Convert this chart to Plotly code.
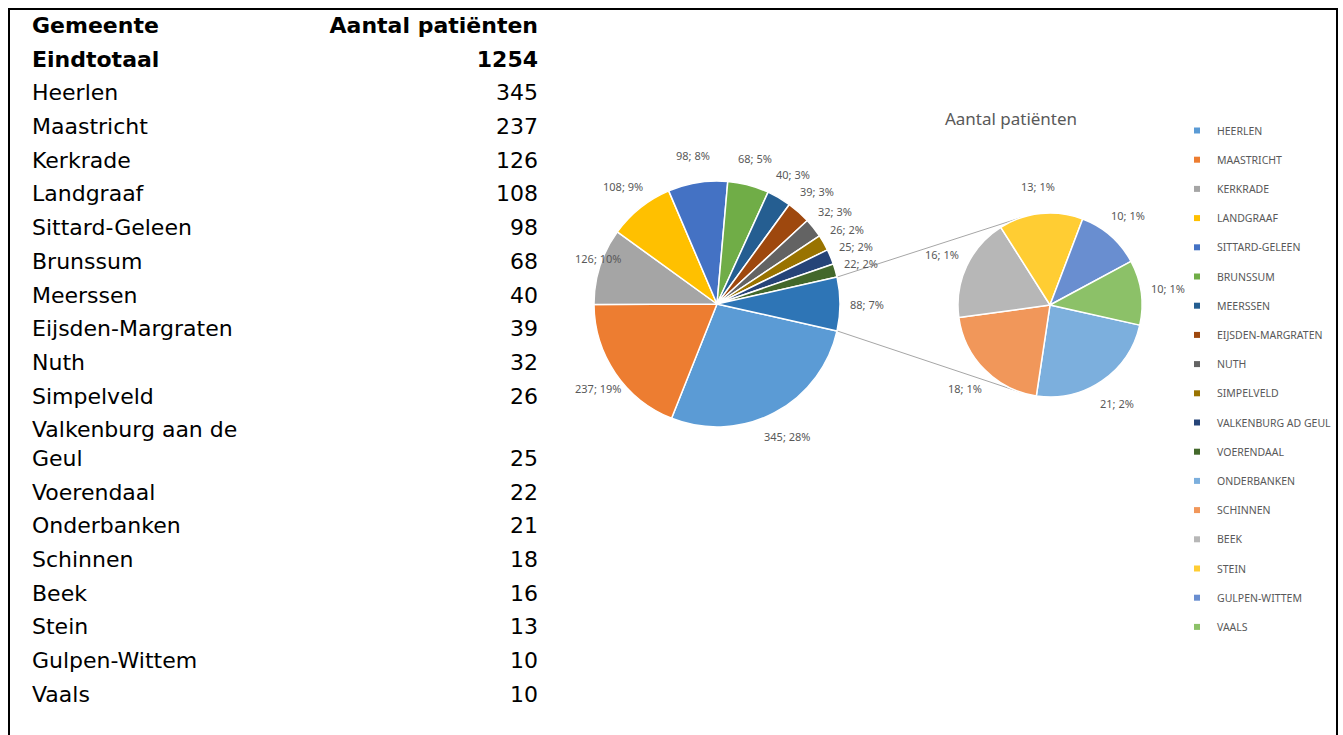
import math
import plotly.graph_objects as go

W, H = 1343, 735

# ---------------- data ----------------
header_labels = ["Gemeente", "Aantal patiënten"]
total_label = "Eindtotaal"
gemeenten = ["Heerlen", "Maastricht", "Kerkrade", "Landgraaf", "Sittard-Geleen",
             "Brunssum", "Meerssen", "Eijsden-Margraten", "Nuth", "Simpelveld",
             "Valkenburg aan de Geul", "Voerendaal", "Onderbanken", "Schinnen",
             "Beek", "Stein", "Gulpen-Wittem", "Vaals"]
patienten = [345, 237, 126, 108, 98, 68, 40, 39, 32, 26, 25, 22, 21, 18, 16, 13, 10, 10]
legend_labels = ["HEERLEN", "MAASTRICHT", "KERKRADE", "LANDGRAAF", "SITTARD-GELEEN",
                 "BRUNSSUM", "MEERSSEN", "EIJSDEN-MARGRATEN", "NUTH", "SIMPELVELD",
                 "VALKENBURG AD GEUL", "VOERENDAAL", "ONDERBANKEN", "SCHINNEN",
                 "BEEK", "STEIN", "GULPEN-WITTEM", "VAALS"]
chart_title = "Aantal patiënten"
n_main = 12  # first 12 in the main pie, rest in the secondary pie
slice_colors = ["#5B9BD5", "#ED7D31", "#A5A5A5", "#FFC000", "#4472C4", "#70AD47",
                "#255E91", "#9E480E", "#636363", "#997300", "#264478", "#43682B",
                "#7CAFDD", "#F1975A", "#B7B7B7", "#FFCD33", "#698ED0", "#8CC168"]
other_color = "#2E75B6"
table_wrap = {"Valkenburg aan de Geul": "Valkenburg aan de<br>Geul"}

# ---------------- derived ----------------
total = sum(patienten)
main_vals = patienten[:n_main]
sec_vals = patienten[n_main:]
other_val = sum(sec_vals)

pie_vals1 = main_vals + [other_val]
pie_labels1 = legend_labels[:n_main] + ["OVERIG"]
pie_cols1 = slice_colors[:n_main] + [other_color]

half_other = 180.0 * other_val / total
rotation = 90 + half_other

# layout geometry (pixels)
cx1, cy1, r1 = 717, 304, 123
cx2, cy2, r2 = 1050, 305, 92
label_gap = 27
label_min_x = 598
row_top, row_pitch, line_pitch = 10.6, 33.7, 28.6
name_x, value_x = 32, 538


def dom(cx, cy, r):
    return dict(x=[(cx - r) / W, (cx + r) / W], y=[1 - (cy + r) / H, 1 - (cy - r) / H])


def label_positions(vals, cx, cy, r, min_x=None):
    pos = []
    start = 90 - rotation
    for v in vals:
        span = 360.0 * v / sum(vals)
        mid = math.radians(start - span / 2)
        start -= span
        x = cx + (r + label_gap) * math.cos(mid)
        y = cy - (r + label_gap) * math.sin(mid)
        if min_x is not None:
            x = max(x, min_x)
        pos.append((x, y))
    return pos


label_font = dict(family="Noto Sans", size=11, color="#595959")
table_font = dict(family="DejaVu Sans", size=22, color="black")

fig = go.Figure()

# ---- table (text columns on a pixel-scaled hidden axis) ----
rows_left = [f"<b>{header_labels[0]}</b>", f"<b>{total_label}</b>"] + \
            [table_wrap.get(g, g) for g in gemeenten]
rows_right = [f"<b>{header_labels[1]}</b>", f"<b>{total}</b>"] + [str(v) for v in patienten]
rows_lines = [1, 1] + [2 if g in table_wrap else 1 for g in gemeenten]

y_left, y_right = [], []
top = row_top
for n in rows_lines:
    h = row_pitch + line_pitch * (n - 1)
    c = top + h / 2
    y_left.append(c)
    y_right.append(c + line_pitch * (n - 1) / 2)
    top += h

fig.add_trace(go.Scatter(x=[name_x] * len(rows_left), y=y_left, mode="text",
                         text=rows_left, textposition="middle right",
                         textfont=table_font, showlegend=False, hoverinfo="skip"))
fig.add_trace(go.Scatter(x=[value_x] * len(rows_right), y=y_right, mode="text",
                         text=rows_right, textposition="middle left",
                         textfont=table_font, showlegend=False, hoverinfo="skip"))

# ---- main pie ----
fig.add_trace(go.Pie(
    values=pie_vals1, labels=pie_labels1, sort=False, direction="clockwise",
    rotation=rotation, domain=dom(cx1, cy1, r1),
    marker=dict(colors=pie_cols1, line=dict(color="white", width=1.5)),
    textinfo="none", showlegend=False, hoverinfo="label+value",
))

# ---- secondary pie ----
fig.add_trace(go.Pie(
    values=sec_vals, labels=legend_labels[n_main:], sort=False, direction="clockwise",
    rotation=rotation, domain=dom(cx2, cy2, r2),
    marker=dict(colors=slice_colors[n_main:], line=dict(color="white", width=1.5)),
    textinfo="none", showlegend=False, hoverinfo="label+value",
))

# ---- legend entries ----
for lab, col in zip(legend_labels, slice_colors):
    fig.add_trace(go.Scatter(x=[None], y=[None], mode="markers", name=lab,
                             legendgroup=lab,
                             marker=dict(symbol="square", size=6, color=col)))

# ---- data labels "value; percent" ----
annotations = []
for v, (x, y) in zip(pie_vals1, label_positions(pie_vals1, cx1, cy1, r1, label_min_x)):
    annotations.append(dict(x=x, y=y, xref="x", yref="y", text=f"{v}; {v / total:.0%}",
                            showarrow=False, xanchor="center", yanchor="middle", font=label_font))
for v, (x, y) in zip(sec_vals, label_positions(sec_vals, cx2, cy2, r2)):
    annotations.append(dict(x=x, y=y, xref="x", yref="y", text=f"{v}; {v / total:.0%}",
                            showarrow=False, xanchor="center", yanchor="middle", font=label_font))

# ---- connector lines (edges of "other" slice to tangent points of secondary pie) ----
shapes = []
for sgn in (1, -1):
    a = math.radians(half_other) * sgn
    px, py = cx1 + r1 * math.cos(a), cy1 - r1 * math.sin(a)
    dx, dy = px - cx2, -(py - cy2)
    d = math.hypot(dx, dy)
    base = math.atan2(dy, dx)
    t = base - sgn * math.acos(r2 / d)
    qx, qy = cx2 + r2 * math.cos(t), cy2 - r2 * math.sin(t)
    shapes.append(dict(type="line", xref="x", yref="y", x0=px, y0=py, x1=qx, y1=qy,
                       line=dict(color="#A6A6A6", width=1), layer="below"))

# ---- outer frame (bottom edge lies beyond the picture) ----
shapes.append(dict(type="path", xref="paper", yref="paper",
                   path=f"M {9/W} {-0.05} L {9/W} {1-9/H} L {1337/W} {1-9/H} L {1337/W} {-0.05}",
                   line=dict(color="black", width=2)))

fig.update_layout(
    width=W, height=H, margin=dict(l=0, r=0, t=0, b=0),
    paper_bgcolor="white", plot_bgcolor="rgba(0,0,0,0)",
    xaxis=dict(visible=False, range=[0, W], domain=[0, 1], fixedrange=True),
    yaxis=dict(visible=False, range=[H, 0], domain=[0, 1], fixedrange=True),
    title=dict(text=chart_title, x=1011 / W, y=1 - 119 / H, xanchor="center", yanchor="middle",
               xref="paper", yref="paper",
               font=dict(family="Noto Sans", size=17, color="#595959")),
    legend=dict(x=1177 / W, y=1 - 116 / H, xanchor="left", yanchor="top",
                font=dict(family="Noto Sans", size=10.5, color="#595959"),
                tracegroupgap=10.2, traceorder="grouped", bgcolor="rgba(0,0,0,0)",
                itemwidth=30),
    annotations=annotations,
    shapes=shapes,
)

fig.write_html("out.html")
